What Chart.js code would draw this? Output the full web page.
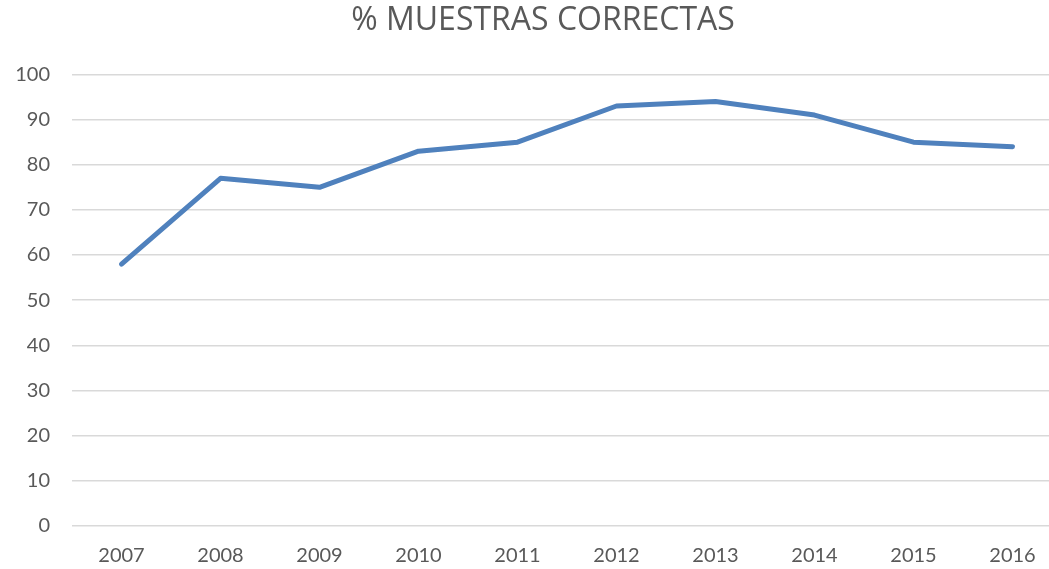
<!DOCTYPE html>
<html>
<head>
<meta charset="utf-8">
<script src="https://cdn.jsdelivr.net/npm/chart.js@4"></script>
<style>
  html, body { margin: 0; padding: 0; background: #fff; overflow: hidden; }
  #wrap { width: 1086px; height: 569px; }
</style>
</head>
<body>
<div id="wrap"><canvas id="myChart" width="1086" height="569"></canvas></div>
<script>
var years = ["2007", "2008", "2009", "2010", "2011", "2012", "2013", "2014", "2015", "2016"];
var correctas = [58, 77, 75, 83, 85, 93, 94, 91, 85, 84];
var titulo = "% MUESTRAS CORRECTAS";

var ctx = document.getElementById("myChart").getContext("2d");
var myChart = new Chart(ctx, {
  type: "line",
  data: {
    labels: years,
    datasets: [
      {
        data: correctas,
        borderColor: "#4f81bd",
        borderWidth: 5,
        pointRadius: 0,
        borderCapStyle: "round",
        borderJoinStyle: "round",
        tension: 0,
      },
    ],
  },
  options: {
    responsive: false,
    animation: false,
    layout: { padding: { left: 0, right: 0, top: 2, bottom: -17 } },
    plugins: {
      legend: { display: false },
      tooltip: { enabled: false },
      title: {
        display: true,
        text: titulo,
        color: "#595959",
        font: { family: "Open Sans", size: 32, weight: "normal" },
        padding: { top: 0, bottom: 34 },
      },
    },
    scales: {
      x: {
        offset: true,
        grid: { display: false, drawTicks: false },
        border: { display: false },
        ticks: {
          color: "#595959",
          font: { family: "Lato", size: 20 },
          padding: 18,
        },
        afterFit: function (axis) {
          axis.paddingRight = 24;
        },
      },
      y: {
        min: 0,
        max: 100,
        ticks: {
          stepSize: 10,
          color: "#595959",
          font: { family: "Lato", size: 20 },
          padding: 22,
        },
        grid: { color: "#d9d9d9", lineWidth: 1.5, drawTicks: false },
        border: { display: false },
        afterFit: function (axis) {
          axis.width = 72;
        },
      },
    },
  },
});
</script>
</body>
</html>
